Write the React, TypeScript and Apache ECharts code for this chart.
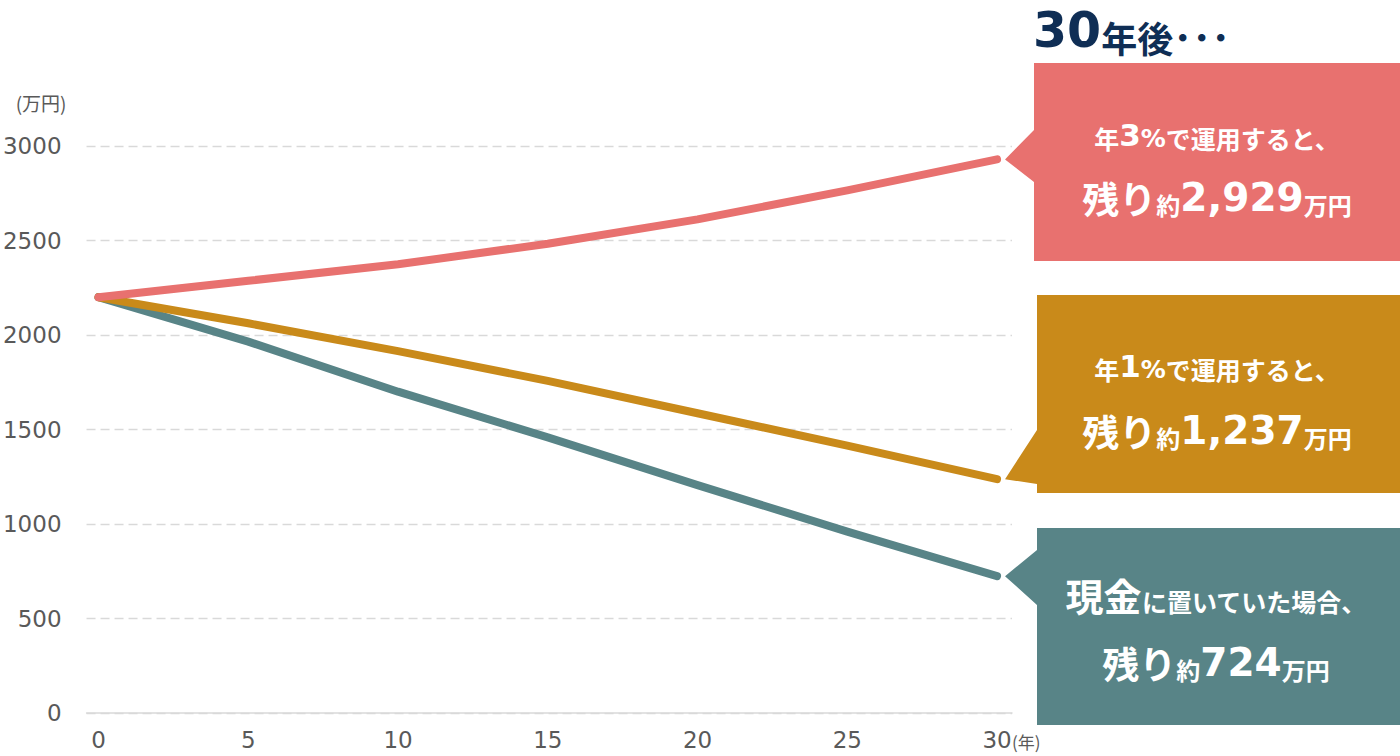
import React, { useEffect, useRef } from 'react';
import * as echarts from 'echarts';

// ---- data ----
const years = [0, 5, 10, 15, 20, 25, 30];
const invest3 = [2200, 2287, 2374, 2483, 2612, 2765, 2929];
const invest1 = [2200, 2062, 1915, 1757, 1586, 1415, 1237];
const cash = [2200, 1965, 1700, 1458, 1206, 960, 724];
const xTickValues = [0, 5, 10, 15, 20, 25, 30];
const yUnit = '(万円)';
const xUnit = '(年)';

const RED = '#E8716F';
const ORANGE = '#C98A1A';
const TEAL = '#588487';
const NAVY = '#0F2E55';
const CJK = '"Noto Sans CJK JP", sans-serif';
const NUM = '"DejaVu Sans", sans-serif';

const tok = (size: number, family: string) => ({
  fontSize: size,
  fontFamily: family,
  fontWeight: 'bold',
  fill: '#ffffff',
  color: '#ffffff',
  lineHeight: size,
  verticalAlign: 'bottom',
});

export default function App() {
  const ref = useRef<HTMLDivElement>(null);
  useEffect(() => {
    document.body.style.margin = '0';
    const chart = echarts.init(ref.current!, null, { renderer: 'svg' });
    const pairs = (vals: number[]) => years.map((y, i) => [y, vals[i]]);
    const lineSeries = (name: string, vals: number[], color: string) => ({
      name,
      type: 'line',
      data: pairs(vals),
      symbol: 'none',
      smooth: false,
      lineStyle: { color, width: 8, cap: 'round', join: 'round' },
      itemStyle: { color },
    });
    chart.setOption({
      animation: false,
      grid: { left: 85, right: 388, top: 146, bottom: 43 },
      xAxis: {
        type: 'value',
        min: -0.4,
        max: 30.5,
        axisLine: { show: true, lineStyle: { color: '#D9D9D9', width: 1.5 } },
        axisTick: { show: false },
        splitLine: { show: false },
        axisLabel: {
          customValues: xTickValues,
          formatter: (v: number) => String(v),
          fontSize: 23,
          color: '#595959',
          fontFamily: NUM,
          margin: 15,
        },
      },
      yAxis: {
        type: 'value',
        min: 0,
        max: 3000,
        interval: 500,
        name: yUnit,
        nameLocation: 'end',
        nameGap: 44,
        nameTextStyle: {
          fontSize: 19,
          color: '#595959',
          fontFamily: CJK,
          align: 'right',
          verticalAlign: 'middle',
          padding: [0, 32, 0, 0],
        },
        axisLine: { show: false },
        axisTick: { show: false },
        splitLine: { show: true, lineStyle: { color: '#D9D9D9', width: 1.3, type: [9, 5] } },
        axisLabel: {
          formatter: (v: number) => String(v),
          fontSize: 23,
          color: '#595959',
          fontFamily: NUM,
          margin: 25,
        },
      },
      series: [
        lineSeries('現金', cash, TEAL),
        lineSeries('年1%', invest1, ORANGE),
        lineSeries('年3%', invest3, RED),
      ],
    });

    const tip = (v: number) => {
      const p = chart.convertToPixel({ gridIndex: 0 }, [30, v]) as number[];
      return [p[0] + 8, p[1]];
    };
    const t3 = tip(invest3[invest3.length - 1]);
    const t1 = tip(invest1[invest1.length - 1]);
    const tc = tip(cash[cash.length - 1]);

    const box = (l: number, t: number, b: number, a1: number, a2: number, tp: number[], color: string) => ({
      type: 'polygon',
      shape: {
        points: [[l, t], [1400, t], [1400, b], [l, b], [l, a2], tp, [l, a1]],
      },
      style: { fill: color },
      z: 10,
    });
    const txt = (x: number, y: number, text: string, rich: any) => ({
      type: 'text',
      x,
      y,
      z: 11,
      style: { text, rich, align: 'center', verticalAlign: 'middle', fill: '#fff' },
    });

    const richA = {
      k: tok(25, CJK),
      n: tok(31, NUM),
      p: tok(25, NUM),
      b: tok(37, CJK),
      s: tok(24, CJK),
      m: tok(39, NUM),
      g: tok(38, CJK),
    };

    chart.setOption({
      graphic: [
        {
          type: 'text',
          x: 1033,
          y: 30,
          z: 11,
          style: {
            text: '{n|30}{k|年後}{d|･･･}',
            align: 'left',
            verticalAlign: 'middle',
            rich: {
              n: { fontSize: 49, fontFamily: NUM, fontWeight: 'bold', fill: NAVY, color: NAVY, lineHeight: 49, verticalAlign: 'bottom' },
              k: { fontSize: 36, fontFamily: CJK, fontWeight: 'bold', fill: NAVY, color: NAVY, lineHeight: 40, verticalAlign: 'bottom' },
              d: { fontSize: 38, fontFamily: CJK, fontWeight: 'bold', fill: NAVY, color: NAVY, lineHeight: 44, verticalAlign: 'bottom' },
            },
          },
        },
        box(1034, 63, 261, 130, 182, t3, RED),
        box(1037, 295, 493, 430, 484, t1, ORANGE),
        box(1037, 528, 725, 550, 605, tc, TEAL),
        txt(1217, 135, '{k|年}{n|3}{p|%}{k|で運用すると、}', richA),
        txt(1217, 197, '{b|残り}{s|約}{m|2,929}{s|万円}', richA),
        txt(1217, 366, '{k|年}{n|1}{p|%}{k|で運用すると、}', richA),
        txt(1217, 430, '{b|残り}{s|約}{m|1,237}{s|万円}', richA),
        txt(1216, 594, '{g|現金}{k|に置いていた場合、}', richA),
        txt(1216, 662, '{b|残り}{s|約}{m|724}{s|万円}', richA),
        {
          type: 'text',
          x: 1012,
          y: 741,
          z: 11,
          style: { text: xUnit, fontSize: 17, lineHeight: 20, fontFamily: CJK, fill: '#595959', align: 'left', verticalAlign: 'middle' },
        },
      ],
    });
    return () => chart.dispose();
  }, []);
  return <div ref={ref} style={{ width: 1400, height: 756 }} />;
}
